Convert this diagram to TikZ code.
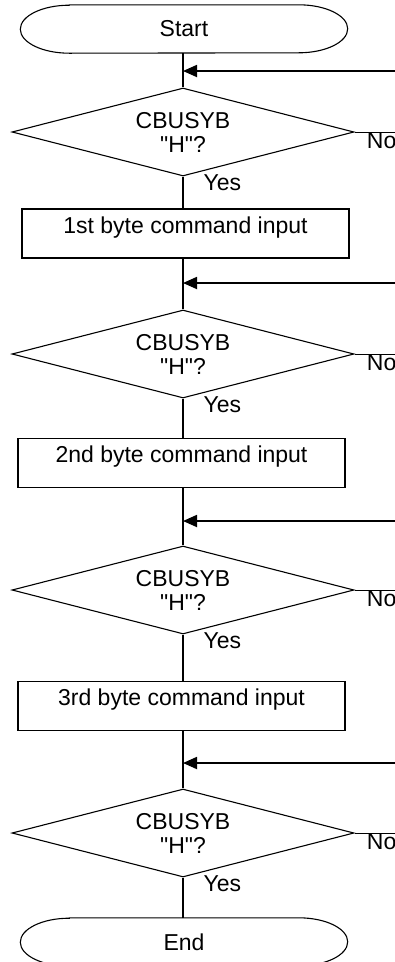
\documentclass[tikz,border=0pt]{standalone}
\usepackage{fontspec}
\setmainfont{Liberation Sans}
\usetikzlibrary{arrows.meta, shapes.geometric, positioning}

\begin{document}
\begin{tikzpicture}[x=1pt, y=-1pt,
    every node/.style={font=\fontsize{23}{24}\selectfont},
    term/.style={
        rectangle, minimum width=327pt, minimum height=48pt,
        inner sep=0pt
    },
    decision/.style={
        diamond, draw, line width=1.1pt, align=center,
        minimum width=342pt, minimum height=88pt,
        aspect=3.9, inner sep=1pt
    },
    process/.style={
        rectangle, draw, line width=1.1pt,
        minimum width=327pt, inner ysep=0pt,
        text height=24pt, text depth=25pt
    },
    flow/.style={line width=1.1pt},
    feed/.style={-{Triangle[length=14pt, width=12pt]}, line width=1.8pt},
    branch/.style={line width=0.8pt},
    tag/.style={inner sep=0pt, anchor=north west}
]
\useasboundingbox (0,0) rectangle (395,962);

%% ─── NODES ───────────────────────────────────────────────────
\node[term] (start) at (184,29) {Start};
\node[decision] (busy1) at (183,132) {CBUSYB\\\textquotedbl H\textquotedbl ?};
\node[process] (byte1) at (185.5,233.5) {1st byte command input};
\node[decision] (busy2) at (183,354) {CBUSYB\\\textquotedbl H\textquotedbl ?};
\node[process] (byte2) at (181.5,463) {2nd byte command input};
\node[decision] (busy3) at (183,590) {CBUSYB\\\textquotedbl H\textquotedbl ?};
\node[process] (byte3) at (181.5,706) {3rd byte command input};
\node[decision] (busy4) at (183,833) {CBUSYB\\\textquotedbl H\textquotedbl ?};
\node[term] (end) at (184,942) {End};

%% ─── TERMINAL OUTLINES ───────────────────────────────────────
\foreach \t in {start, end} {
  \draw[flow] ([xshift=49pt]\t.north west) -- ([xshift=-49pt]\t.north east)
      arc[start angle=90, end angle=-90, x radius=49pt, y radius=24pt]
      -- ([xshift=49pt]\t.south west)
      arc[start angle=270, end angle=90, x radius=49pt, y radius=24pt]
      -- cycle;
}

%% ─── LOOP-BACK ENDS (off the right edge) ─────────────────────
\coordinate (in1) at (395,71);
\coordinate (in2) at (395,283);
\coordinate (in3) at (395,521);
\coordinate (in4) at (395,763);
\coordinate (out1) at (395,132);
\coordinate (out2) at (395,354);
\coordinate (out3) at (395,590);
\coordinate (out4) at (395,833);

%% ─── ARROWS ──────────────────────────────────────────────────
\draw[flow] (start.south -| busy1.north) -- (busy1.north);
\draw[flow] (busy1.south) -- node[tag, pos=0, xshift=20pt, yshift=2pt]{Yes} (busy1.south |- byte1.north);
\draw[flow] (busy2.north |- byte1.south) -- (busy2.north);
\draw[flow] (busy2.south) -- node[tag, pos=0, xshift=20pt, yshift=2pt]{Yes} (busy2.south |- byte2.north);
\draw[flow] (busy3.north |- byte2.south) -- (busy3.north);
\draw[flow] (busy3.south) -- node[tag, pos=0, xshift=20pt, yshift=2pt]{Yes} (busy3.south |- byte3.north);
\draw[flow] (busy4.north |- byte3.south) -- (busy4.north);
\draw[flow] (busy4.south) -- node[tag, pos=0, xshift=20pt, yshift=2pt]{Yes} (busy4.south |- end.north);

% No branches leave to the right
\foreach \i in {1,...,4} {
  \draw[branch] (busy\i.east) -- node[tag, pos=0, xshift=12pt]{No} (out\i);
  \draw[feed] (in\i) -- (in\i -| busy\i.north);
}

\end{tikzpicture}
\end{document}
